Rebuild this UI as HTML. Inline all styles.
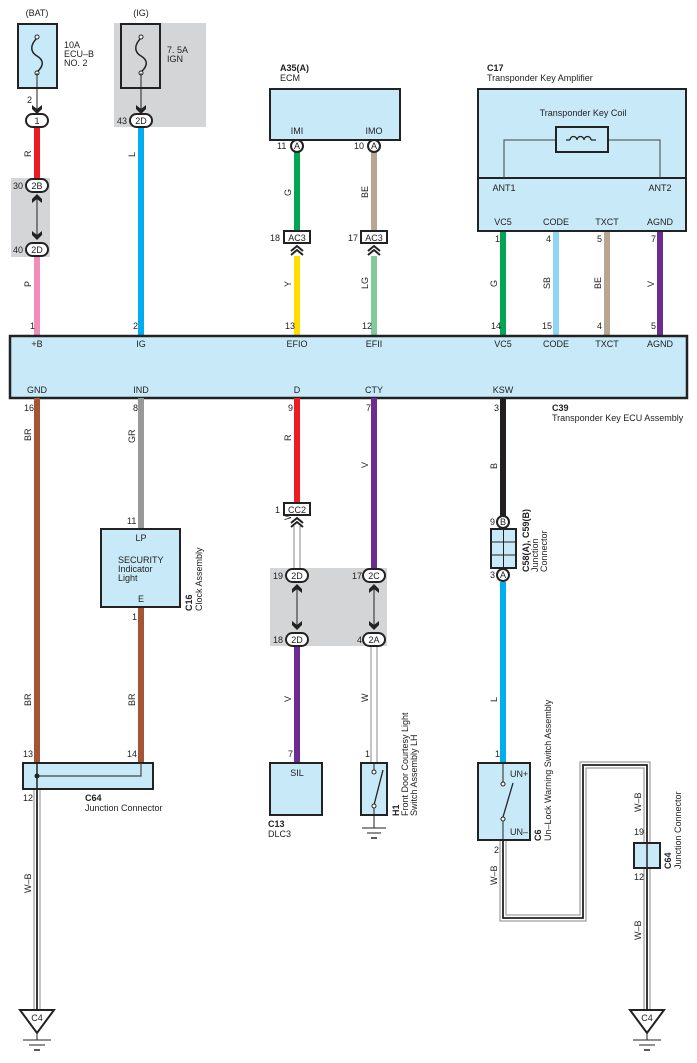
<!DOCTYPE html>
<html><head><meta charset="utf-8"><style>
html,body{margin:0;padding:0;background:#fff}
svg{display:block}
text{font-family:"Liberation Sans",sans-serif;font-size:9px;fill:#222}
.b{font-weight:bold}
</style></head><body>
<svg width="697" height="1063" viewBox="0 0 697 1063" xmlns="http://www.w3.org/2000/svg">
<defs>
<path id="ad" d="M-5,-7 L0,-3 L5,-7 L5,-3 L0,2 L-5,-3 Z" fill="#222"/>
<path id="au" d="M-5,7 L0,3 L5,7 L5,3 L0,-2 L-5,3 Z" fill="#222"/>
<path id="chev" d="M-6,4 L0,-1 L6,4 M-6,8 L0,3 L6,8" fill="none" stroke="#222" stroke-width="2"/>
</defs>
<rect x="114" y="23" width="92" height="104" fill="#d4d5d7"/>
<rect x="11" y="178" width="39" height="79" fill="#d4d5d7"/>
<rect x="270" y="568" width="117" height="78" fill="#d4d5d7"/>

<text x="37" y="16" text-anchor="middle">(BAT)</text>
<rect x="18" y="24" width="39" height="64" fill="#c8e9f8" stroke="#222" stroke-width="2"/>
<path d="M37,38 C30,45 30,52 37,56 C44,60 44,66 37,72" fill="none" stroke="#222" stroke-width="1.5"/>
<circle cx="37" cy="37" r="2" fill="#fff" stroke="#222"/><circle cx="37" cy="73" r="2" fill="#fff" stroke="#222"/>
<text x="64" y="48">10A</text><text x="64" y="57">ECU–B</text><text x="64" y="66">NO. 2</text>
<text x="141" y="16" text-anchor="middle">(IG)</text>
<rect x="121" y="24" width="39" height="64" fill="#d4d5d7" stroke="#222" stroke-width="2"/>
<path d="M141,38 C134,45 134,52 141,56 C148,60 148,66 141,72" fill="none" stroke="#222" stroke-width="1.5"/>
<circle cx="141" cy="37" r="2" fill="#fff" stroke="#222"/><circle cx="141" cy="73" r="2" fill="#fff" stroke="#222"/>
<text x="167" y="53">7. 5A</text><text x="167" y="62">IGN</text>
<line x1="37" y1="73" x2="37" y2="110" stroke="#222"/><use href="#ad" x="37" y="112"/>
<line x1="141" y1="73" x2="141" y2="110" stroke="#222"/><use href="#ad" x="141" y="112"/>
<text x="27" y="103">2</text>

<g stroke-width="6" fill="none">
<line x1="37" y1="126" x2="37" y2="180" stroke="#ed1c24"/>
<line x1="37" y1="255" x2="37" y2="336" stroke="#f28cb9"/>
<line x1="141" y1="126" x2="141" y2="336" stroke="#00aeef"/>
<line x1="297" y1="152" x2="297" y2="231" stroke="#00a651"/>
<line x1="297" y1="256" x2="297" y2="336" stroke="#ffde00"/>
<line x1="374" y1="152" x2="374" y2="231" stroke="#b8a592"/>
<line x1="374" y1="256" x2="374" y2="336" stroke="#82ca9c"/>
<line x1="503" y1="231" x2="503" y2="336" stroke="#00a651"/>
<line x1="556" y1="231" x2="556" y2="336" stroke="#8dd6f5"/>
<line x1="607" y1="231" x2="607" y2="336" stroke="#b8a592"/>
<line x1="660" y1="231" x2="660" y2="336" stroke="#6d2c91"/>
</g>
<rect x="26" y="114" width="22" height="13" rx="6.5" fill="#fff" stroke="#222" stroke-width="2"/><text x="37" y="124" text-anchor="middle">1</text>
<rect x="130" y="114" width="22" height="13" rx="6.5" fill="#fff" stroke="#222" stroke-width="2"/><text x="141" y="124" text-anchor="middle">2D</text>
<text x="117" y="124">43</text>
<rect x="26" y="179" width="22" height="13" rx="6.5" fill="#fff" stroke="#222" stroke-width="2"/><text x="37" y="189" text-anchor="middle">2B</text>
<text x="13" y="189">30</text>
<line x1="37" y1="196" x2="37" y2="238" stroke="#222"/><use href="#au" x="37" y="196"/><use href="#ad" x="37" y="238"/>
<rect x="26" y="243" width="22" height="13" rx="6.5" fill="#fff" stroke="#222" stroke-width="2"/><text x="37" y="253" text-anchor="middle">2D</text>
<text x="13" y="253">40</text>

<text class="b" x="280" y="71">A35(A)</text><text x="280" y="81">ECM</text>
<rect x="270" y="89" width="130" height="51" fill="#c8e9f8" stroke="#222" stroke-width="2"/>
<text x="297" y="134" text-anchor="middle">IMI</text><text x="374" y="134" text-anchor="middle">IMO</text>
<circle cx="297" cy="146" r="6" fill="#fff" stroke="#222" stroke-width="2"/><text x="297" y="149" text-anchor="middle" font-size="8">A</text>
<circle cx="374" cy="146" r="6" fill="#fff" stroke="#222" stroke-width="2"/><text x="374" y="149" text-anchor="middle" font-size="8">A</text>
<text x="277" y="149">11</text><text x="354" y="149">10</text>
<rect x="284" y="231" width="26" height="12" fill="#fff" stroke="#222" stroke-width="2"/><text x="297" y="241" text-anchor="middle">AC3</text>
<rect x="361" y="231" width="26" height="12" fill="#fff" stroke="#222" stroke-width="2"/><text x="374" y="241" text-anchor="middle">AC3</text>
<text x="270" y="241">18</text><text x="348" y="241">17</text>
<use href="#chev" x="297" y="247"/><use href="#chev" x="374" y="247"/>

<text class="b" x="487" y="71">C17</text><text x="487" y="81">Transponder Key Amplifier</text>
<rect x="478" y="89" width="208" height="142" fill="#c8e9f8" stroke="#222" stroke-width="2"/>
<line x1="478" y1="178" x2="686" y2="178" stroke="#222" stroke-width="2"/>
<text x="583" y="116" text-anchor="middle">Transponder Key Coil</text>
<path d="M504,178 V140 H556 M608,140 H660 V178" fill="none" stroke="#444"/>
<rect x="556" y="127" width="52" height="25" fill="none" stroke="#222" stroke-width="2"/>
<path d="M566,140 H570 M570,140 a3.5,3.5 0 0 1 7,0 M577,140 a3.5,3.5 0 0 1 7,0 M584,140 a3.5,3.5 0 0 1 7,0 M591,140 H596" fill="none" stroke="#222" stroke-width="1.3"/>
<text x="504" y="191" text-anchor="middle">ANT1</text><text x="660" y="191" text-anchor="middle">ANT2</text>
<text x="503" y="225" text-anchor="middle">VC5</text><text x="556" y="225" text-anchor="middle">CODE</text>
<text x="607" y="225" text-anchor="middle">TXCT</text><text x="660" y="225" text-anchor="middle">AGND</text>
<text x="495" y="242">1</text><text x="546" y="242">4</text><text x="597" y="242">5</text><text x="651" y="242">7</text>
<text x="491" y="329">14</text><text x="542" y="329">15</text><text x="597" y="329">4</text><text x="651" y="329">5</text>
<text x="30" y="329">1</text><text x="133" y="329">2</text><text x="285" y="329">13</text><text x="362" y="329">12</text>

<g>
<text transform="translate(31,157) rotate(-90)">R</text>
<text transform="translate(31,287) rotate(-90)">P</text>
<text transform="translate(135,157) rotate(-90)">L</text>
<text transform="translate(291,196) rotate(-90)">G</text>
<text transform="translate(291,287) rotate(-90)">Y</text>
<text transform="translate(368,198) rotate(-90)">BE</text>
<text transform="translate(368,289) rotate(-90)">LG</text>
<text transform="translate(497,287) rotate(-90)">G</text>
<text transform="translate(550,289) rotate(-90)">SB</text>
<text transform="translate(601,289) rotate(-90)">BE</text>
<text transform="translate(654,287) rotate(-90)">V</text>
</g>

<rect x="10" y="336" width="677" height="62" fill="#c8e9f8" stroke="#222" stroke-width="2.5"/>
<text x="37" y="347" text-anchor="middle">+B</text><text x="141" y="347" text-anchor="middle">IG</text>
<text x="297" y="347" text-anchor="middle">EFIO</text><text x="374" y="347" text-anchor="middle">EFII</text>
<text x="503" y="347" text-anchor="middle">VC5</text><text x="556" y="347" text-anchor="middle">CODE</text>
<text x="607" y="347" text-anchor="middle">TXCT</text><text x="660" y="347" text-anchor="middle">AGND</text>
<text x="37" y="393" text-anchor="middle">GND</text><text x="141" y="393" text-anchor="middle">IND</text>
<text x="297" y="393" text-anchor="middle">D</text><text x="374" y="393" text-anchor="middle">CTY</text>
<text x="503" y="393" text-anchor="middle">KSW</text>
<text class="b" x="552" y="411">C39</text><text x="552" y="421">Transponder Key ECU Assembly</text>

<g stroke-width="6" fill="none">
<line x1="37" y1="398" x2="37" y2="763" stroke="#a65534"/>
<line x1="141" y1="398" x2="141" y2="529" stroke="#999"/>
<line x1="141" y1="607" x2="141" y2="763" stroke="#a65534"/>
<line x1="297" y1="398" x2="297" y2="503" stroke="#ed1c24"/>
<line x1="297" y1="646" x2="297" y2="763" stroke="#6d2c91"/>
<line x1="374" y1="398" x2="374" y2="568" stroke="#6d2c91"/>
<line x1="503" y1="398" x2="503" y2="517" stroke="#231f20"/>
<line x1="503" y1="582" x2="503" y2="763" stroke="#00aeef"/>
</g>
<g fill="none">
<line x1="297" y1="526" x2="297" y2="568" stroke="#888" stroke-width="7"/><line x1="297" y1="526" x2="297" y2="568" stroke="#fff" stroke-width="5"/>
<line x1="374" y1="646" x2="374" y2="763" stroke="#888" stroke-width="7"/><line x1="374" y1="646" x2="374" y2="763" stroke="#fff" stroke-width="5"/>
<path d="M37,789 V1010" stroke="#888" stroke-width="7"/><path d="M37,789 V1010" stroke="#fff" stroke-width="5"/><path d="M37,789 V1010" stroke="#222" stroke-width="1.8"/>
<path d="M503,840 V918 H583 V765 H647 V1010" stroke="#888" stroke-width="7"/>
<path d="M503,840 V918 H583 V765 H647 V1010" stroke="#fff" stroke-width="5"/>
<path d="M503,840 V918 H583 V765 H647 V1010" stroke="#222" stroke-width="1.8"/>
</g>
<text x="24" y="411">16</text><text x="133" y="411">8</text><text x="288" y="411">9</text><text x="366" y="411">7</text><text x="494" y="411">3</text>
<g>
<text transform="translate(31,441) rotate(-90)">BR</text>
<text transform="translate(31,706) rotate(-90)">BR</text>
<text transform="translate(135,443) rotate(-90)">GR</text>
<text transform="translate(135,706) rotate(-90)">BR</text>
<text transform="translate(291,441) rotate(-90)">R</text>
<text transform="translate(291,520) rotate(-90)">W</text>
<text transform="translate(291,702) rotate(-90)">V</text>
<text transform="translate(368,468) rotate(-90)">V</text>
<text transform="translate(368,702) rotate(-90)">W</text>
<text transform="translate(497,469) rotate(-90)">B</text>
<text transform="translate(497,702) rotate(-90)">L</text>
<text transform="translate(31,893) rotate(-90)">W–B</text>
<text transform="translate(497,885) rotate(-90)">W–B</text>
<text transform="translate(641,812) rotate(-90)">W–B</text>
<text transform="translate(641,940) rotate(-90)">W–B</text>
</g>

<text x="127" y="524">11</text>
<rect x="101" y="529" width="79" height="78" fill="#c8e9f8" stroke="#222" stroke-width="2"/>
<text x="141" y="541" text-anchor="middle">LP</text>
<text x="118" y="563">SECURITY</text><text x="118" y="572">Indicator</text><text x="118" y="581">Light</text>
<text x="141" y="602" text-anchor="middle">E</text>
<text x="132" y="620">1</text>
<text class="b" transform="translate(192,611) rotate(-90)">C16</text>
<text transform="translate(202,611) rotate(-90)">Clock Assembly</text>

<text x="23" y="757">13</text><text x="127" y="757">14</text>
<rect x="23" y="763" width="130" height="26" fill="#c8e9f8" stroke="#222" stroke-width="2"/>
<path d="M37,776 H141 V763" fill="none" stroke="#444" stroke-width="1.2"/>
<line x1="37" y1="763" x2="37" y2="789" stroke="#222" stroke-width="1.5"/>
<circle cx="37" cy="776" r="2.5" fill="#222"/>
<text x="23" y="801">12</text>
<text class="b" x="85" y="801">C64</text><text x="85" y="811">Junction Connector</text>

<rect x="284" y="503" width="26" height="12" fill="#fff" stroke="#222" stroke-width="2"/><text x="297" y="513" text-anchor="middle">CC2</text>
<text x="275" y="513">1</text>
<use href="#chev" x="297" y="519"/>
<rect x="286" y="569" width="22" height="13" rx="6.5" fill="#fff" stroke="#222" stroke-width="2"/><text x="297" y="579" text-anchor="middle">2D</text>
<rect x="363" y="569" width="22" height="13" rx="6.5" fill="#fff" stroke="#222" stroke-width="2"/><text x="374" y="579" text-anchor="middle">2C</text>
<rect x="286" y="633" width="22" height="13" rx="6.5" fill="#fff" stroke="#222" stroke-width="2"/><text x="297" y="643" text-anchor="middle">2D</text>
<rect x="363" y="633" width="22" height="13" rx="6.5" fill="#fff" stroke="#222" stroke-width="2"/><text x="374" y="643" text-anchor="middle">2A</text>
<text x="273" y="579">19</text><text x="352" y="579">17</text><text x="273" y="643">18</text><text x="357" y="643">4</text>
<line x1="297" y1="586" x2="297" y2="628" stroke="#222"/><use href="#au" x="297" y="586"/><use href="#ad" x="297" y="628"/>
<line x1="374" y1="586" x2="374" y2="628" stroke="#222"/><use href="#au" x="374" y="586"/><use href="#ad" x="374" y="628"/>

<text x="288" y="757">7</text>
<rect x="270" y="763" width="52" height="52" fill="#c8e9f8" stroke="#222" stroke-width="2"/>
<text x="297" y="776" text-anchor="middle">SIL</text>
<text class="b" x="268" y="827">C13</text><text x="268" y="837">DLC3</text>

<text x="365" y="757">1</text>
<rect x="361" y="763" width="26" height="52" fill="#c8e9f8" stroke="#222" stroke-width="2"/>
<line x1="374" y1="763" x2="374" y2="772" stroke="#222"/>
<circle cx="374" cy="772" r="2" fill="#fff" stroke="#222"/>
<line x1="383" y1="770" x2="374" y2="805" stroke="#222" stroke-width="1.3"/>
<circle cx="374" cy="806" r="2" fill="#fff" stroke="#222"/>
<line x1="374" y1="808" x2="374" y2="828" stroke="#222"/>
<line x1="362" y1="828" x2="386" y2="828" stroke="#222"/><line x1="367" y1="833" x2="381" y2="833" stroke="#222"/><line x1="371" y1="838" x2="377" y2="838" stroke="#222" stroke-width="1.5"/>
<text class="b" transform="translate(399,816) rotate(-90)">H1</text>
<text transform="translate(408,816) rotate(-90)">Front Door Courtesy Light</text>
<text transform="translate(417,816) rotate(-90)">Switch Assembly LH</text>

<circle cx="503" cy="522" r="6" fill="#fff" stroke="#222" stroke-width="2"/><text x="503" y="525" text-anchor="middle" font-size="8">B</text>
<text x="490" y="525">9</text>
<rect x="491" y="529" width="25" height="39" fill="#c8e9f8" stroke="#222" stroke-width="2"/>
<path d="M503.5,529 V568 M491,542 H516 M491,555 H516" stroke="#222" stroke-width="1"/>
<circle cx="503" cy="575" r="6" fill="#fff" stroke="#222" stroke-width="2"/><text x="503" y="578" text-anchor="middle" font-size="8">A</text>
<text x="490" y="578">3</text>
<text class="b" transform="translate(529,572) rotate(-90)">C58(A), C59(B)</text>
<text transform="translate(538,572) rotate(-90)">Junction</text>
<text transform="translate(547,572) rotate(-90)">Connector</text>

<text x="495" y="757">1</text>
<rect x="478" y="763" width="52" height="77" fill="#c8e9f8" stroke="#222" stroke-width="2"/>
<line x1="503" y1="763" x2="503" y2="783" stroke="#222"/>
<text x="510" y="777">UN+</text><text x="510" y="835">UN–</text>
<circle cx="503" cy="784" r="2" fill="#fff" stroke="#222"/>
<line x1="513" y1="783" x2="503" y2="817" stroke="#222" stroke-width="1.3"/>
<circle cx="503" cy="819" r="2" fill="#fff" stroke="#222"/>
<line x1="503" y1="821" x2="503" y2="840" stroke="#222"/>
<text x="494" y="853">2</text>
<text class="b" transform="translate(541,841) rotate(-90)">C6</text>
<text transform="translate(551,841) rotate(-90)">Un–Lock Warning Switch Assembly</text>

<text x="634" y="835">19</text>
<rect x="634" y="843" width="26" height="25" fill="#c8e9f8" stroke="#222" stroke-width="2"/>
<line x1="647" y1="843" x2="647" y2="868" stroke="#222" stroke-width="1.5"/>
<text x="634" y="880">12</text>
<text class="b" transform="translate(671,869) rotate(-90)">C64</text>
<text transform="translate(681,869) rotate(-90)">Junction Connector</text>

<g>
<path d="M20,1010 H54 L37,1033 Z" fill="#fff" stroke="#222" stroke-width="2"/>
<text x="37" y="1021" text-anchor="middle">C4</text>
<line x1="37" y1="1033" x2="37" y2="1040" stroke="#222"/>
<line x1="23" y1="1040" x2="51" y2="1040" stroke="#222"/><line x1="29" y1="1045" x2="45" y2="1045" stroke="#222"/><line x1="34" y1="1050" x2="40" y2="1050" stroke="#222" stroke-width="1.5"/>
</g>
<g>
<path d="M630,1010 H664 L647,1033 Z" fill="#fff" stroke="#222" stroke-width="2"/>
<text x="647" y="1021" text-anchor="middle">C4</text>
<line x1="647" y1="1033" x2="647" y2="1040" stroke="#222"/>
<line x1="633" y1="1040" x2="661" y2="1040" stroke="#222"/><line x1="639" y1="1045" x2="655" y2="1045" stroke="#222"/><line x1="644" y1="1050" x2="650" y2="1050" stroke="#222" stroke-width="1.5"/>
</g>
</svg>
</body></html>
